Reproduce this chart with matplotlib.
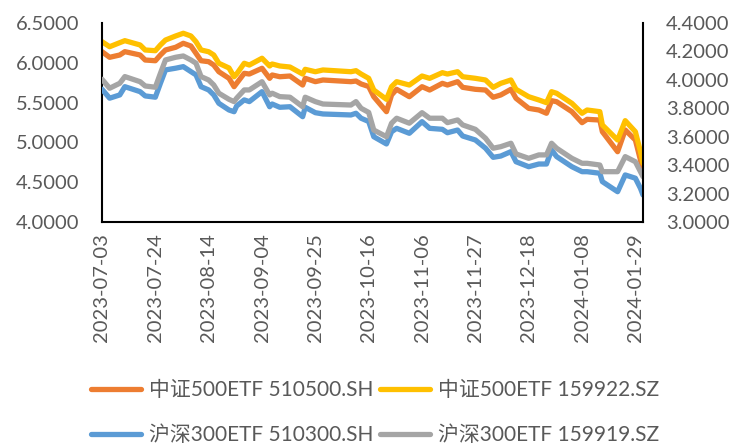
import matplotlib
matplotlib.use("Agg")
import matplotlib.pyplot as plt
import matplotlib.dates as mdates
import matplotlib.ticker as mticker
import pandas as pd

plt.rcParams['font.family'] = ['Lato', 'Noto Sans CJK SC', 'DejaVu Sans']

dates = ["2023-07-03", "2023-07-06", "2023-07-10", "2023-07-12", "2023-07-18", "2023-07-20",
         "2023-07-24", "2023-07-26", "2023-07-28", "2023-08-01", "2023-08-04", "2023-08-07",
         "2023-08-09", "2023-08-11", "2023-08-14", "2023-08-16", "2023-08-18", "2023-08-22",
         "2023-08-24", "2023-08-25", "2023-08-28", "2023-08-30", "2023-09-04", "2023-09-07",
         "2023-09-08", "2023-09-11", "2023-09-15", "2023-09-20", "2023-09-21", "2023-09-25",
         "2023-09-28", "2023-10-09", "2023-10-11", "2023-10-13", "2023-10-16", "2023-10-18",
         "2023-10-23", "2023-10-25", "2023-10-27", "2023-11-01", "2023-11-06", "2023-11-09",
         "2023-11-14", "2023-11-16", "2023-11-20", "2023-11-22", "2023-11-27", "2023-12-01",
         "2023-12-04", "2023-12-07", "2023-12-11", "2023-12-13", "2023-12-18", "2023-12-22",
         "2023-12-25", "2023-12-27", "2023-12-29", "2024-01-04", "2024-01-08", "2024-01-10",
         "2024-01-15", "2024-01-16", "2024-01-22", "2024-01-25", "2024-01-29", "2024-01-31",
         "2024-02-01"]

zz500_510500 = [6.140, 6.069, 6.098, 6.140, 6.098, 6.035, 6.026, 6.098, 6.161, 6.195, 6.245, 6.211,
                6.119, 6.026, 6.014, 5.972, 5.888, 5.805, 5.700, 5.742, 5.868, 5.859, 5.931, 5.805,
                5.847, 5.825, 5.834, 5.721, 5.805, 5.763, 5.784, 5.763, 5.771, 5.734, 5.702, 5.574,
                5.386, 5.596, 5.667, 5.574, 5.700, 5.658, 5.742, 5.721, 5.763, 5.692, 5.667, 5.658,
                5.567, 5.596, 5.667, 5.554, 5.428, 5.407, 5.366, 5.524, 5.511, 5.386, 5.248, 5.290,
                5.281, 5.134, 4.883, 5.156, 5.030, 4.779, 4.632]

zz500_159922 = [6.265, 6.202, 6.253, 6.278, 6.224, 6.161, 6.152, 6.224, 6.286, 6.337, 6.371, 6.337,
                6.265, 6.161, 6.139, 6.098, 5.994, 5.935, 5.825, 5.859, 5.994, 5.972, 6.057, 5.960,
                5.985, 5.960, 5.947, 5.859, 5.918, 5.888, 5.910, 5.888, 5.901, 5.859, 5.805, 5.658,
                5.541, 5.700, 5.763, 5.721, 5.834, 5.805, 5.876, 5.859, 5.888, 5.825, 5.805, 5.784,
                5.692, 5.742, 5.784, 5.667, 5.574, 5.533, 5.499, 5.637, 5.617, 5.491, 5.366, 5.407,
                5.386, 5.219, 5.030, 5.273, 5.134, 4.883, 4.737]

hs300_510300 = [3.934, 3.871, 3.894, 3.952, 3.917, 3.887, 3.878, 3.976, 4.070, 4.082, 4.093, 4.058,
                4.035, 3.952, 3.929, 3.894, 3.835, 3.788, 3.776, 3.816, 3.859, 3.847, 3.917, 3.811,
                3.830, 3.807, 3.811, 3.741, 3.807, 3.769, 3.760, 3.753, 3.765, 3.730, 3.707, 3.600,
                3.549, 3.635, 3.659, 3.624, 3.706, 3.659, 3.652, 3.628, 3.647, 3.605, 3.577, 3.519,
                3.455, 3.464, 3.495, 3.424, 3.389, 3.408, 3.408, 3.507, 3.460, 3.389, 3.354, 3.354,
                3.343, 3.284, 3.213, 3.331, 3.308, 3.237, 3.190]

hs300_159919 = [4.004, 3.941, 3.976, 4.023, 3.987, 3.957, 3.948, 4.046, 4.140, 4.159, 4.168, 4.140,
                4.117, 4.023, 3.999, 3.964, 3.906, 3.863, 3.847, 3.871, 3.929, 3.929, 3.987, 3.894,
                3.906, 3.882, 3.878, 3.811, 3.878, 3.847, 3.830, 3.823, 3.847, 3.800, 3.771, 3.647,
                3.600, 3.695, 3.730, 3.695, 3.769, 3.730, 3.730, 3.699, 3.718, 3.683, 3.652, 3.589,
                3.519, 3.530, 3.554, 3.479, 3.448, 3.472, 3.472, 3.554, 3.519, 3.448, 3.413, 3.413,
                3.401, 3.354, 3.354, 3.460, 3.424, 3.354, 3.319]

tick_labels = ["2023-07-03", "2023-07-24", "2023-08-14", "2023-09-04", "2023-09-25", "2023-10-16",
               "2023-11-06", "2023-11-27", "2023-12-18", "2024-01-08", "2024-01-29"]

labels = ["中证500ETF 510500.SH", "中证500ETF 159922.SZ",
          "沪深300ETF 510300.SH", "沪深300ETF 159919.SZ"]
colors = ["#ED7D31", "#FFC000", "#5B9BD5", "#A5A5A5"]

x = pd.to_datetime(dates)
ticks = pd.to_datetime(tick_labels)

fig = plt.figure(figsize=(7.34, 4.45), dpi=100)
ax = fig.add_axes([102/734, 1-222/445, (643-102)/734, (222-23)/445])
ax2 = ax.twinx()

lw = 3.8
kw = dict(lw=lw, solid_joinstyle='round', solid_capstyle='round')
l1, = ax.plot(x, zz500_510500, color=colors[0], label=labels[0], **kw)
l2, = ax.plot(x, zz500_159922, color=colors[1], label=labels[1], **kw)
l3, = ax2.plot(x, hs300_510300, color=colors[2], label=labels[2], **kw)
l4, = ax2.plot(x, hs300_159919, color=colors[3], label=labels[3], **kw)

ax.set_ylim(4.0, 6.5)
ax.set_yticks([4.0, 4.5, 5.0, 5.5, 6.0, 6.5])
ax2.set_ylim(3.0, 4.4)
ax2.set_yticks([3.0, 3.2, 3.4, 3.6, 3.8, 4.0, 4.2, 4.4])
fmt = mticker.FormatStrFormatter('%.4f')
ax.yaxis.set_major_formatter(fmt)
ax2.yaxis.set_major_formatter(fmt)

ax.set_xlim(x[0], x[-1])
ax.set_xticks(ticks)
ax.set_xticklabels(tick_labels, rotation=90)

tc = "#595959"
for a in (ax, ax2):
    a.tick_params(axis='both', length=0, labelsize=14.5, labelcolor=tc)
    for s in a.spines.values():
        s.set_visible(False)
ax.tick_params(axis='y', pad=16.5)
ax2.tick_params(axis='y', pad=16.5)
ax.tick_params(axis='x', pad=8)
ax.spines['left'].set_visible(True)
ax.spines['bottom'].set_visible(True)
ax2.spines['right'].set_visible(True)
for s in (ax.spines['left'], ax.spines['bottom'], ax2.spines['right']):
    s.set_color('black')
    s.set_linewidth(1.5)

leg = fig.legend([l1, l3, l2, l4], [labels[0], labels[2], labels[1], labels[3]],
                 ncol=2, loc='center', bbox_to_anchor=(0.511, 0.072), frameon=False,
                 fontsize=15, handlelength=2.4, handletextpad=0.4, columnspacing=0.3,
                 labelspacing=1.2, borderpad=0)
for t in leg.get_texts():
    t.set_color(tc)

fig.savefig("out.png", dpi=100)
